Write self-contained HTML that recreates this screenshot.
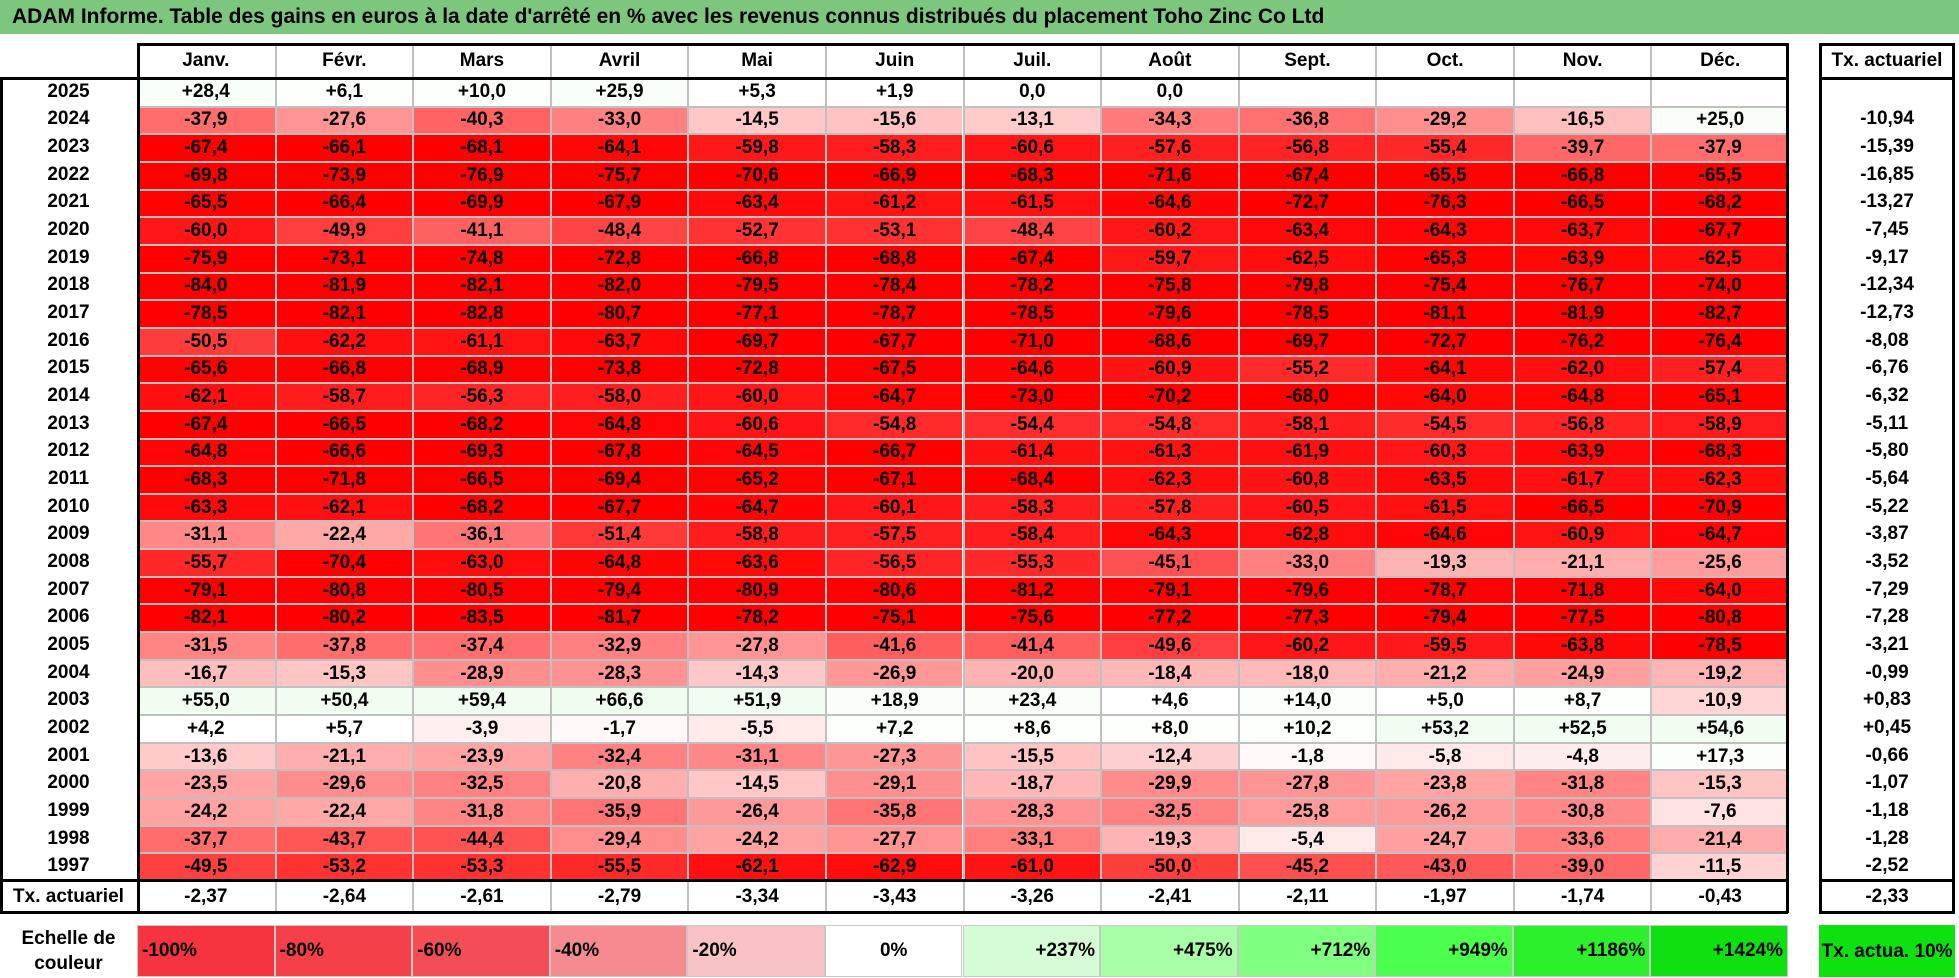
<!DOCTYPE html>
<html><head><meta charset="utf-8">
<style>
html,body{margin:0;padding:0;background:#fff;}
#root{position:relative;width:1959px;height:978px;overflow:hidden;font-family:"Liberation Sans",sans-serif;font-weight:bold;color:#000;}
.c{position:absolute;box-sizing:border-box;display:flex;align-items:center;justify-content:center;font-size:19px;white-space:nowrap;}
.ln{position:absolute;background:#000;}
</style></head>
<body>
<div id="root">
  <div class="c" style="left:0;top:0;width:1959px;height:34px;background:#7dc67d;justify-content:flex-start;padding-left:12px;font-size:21px;">ADAM Informe. Table des gains en euros à la date d'arrêté en % avec les revenus connus distribués du placement Toho Zinc Co Ltd</div>
</div>
<script>
const months = ["Janv.","Févr.","Mars","Avril","Mai","Juin","Juil.","Août","Sept.","Oct.","Nov.","Déc."];
const years = [2025,2024,2023,2022,2021,2020,2019,2018,2017,2016,2015,2014,2013,2012,2011,2010,2009,2008,2007,2006,2005,2004,2003,2002,2001,2000,1999,1998,1997];
const values = [
[28.4,6.1,10.0,25.9,5.3,1.9,0.0,0.0,null,null,null,null],
[-37.9,-27.6,-40.3,-33.0,-14.5,-15.6,-13.1,-34.3,-36.8,-29.2,-16.5,25.0],
[-67.4,-66.1,-68.1,-64.1,-59.8,-58.3,-60.6,-57.6,-56.8,-55.4,-39.7,-37.9],
[-69.8,-73.9,-76.9,-75.7,-70.6,-66.9,-68.3,-71.6,-67.4,-65.5,-66.8,-65.5],
[-65.5,-66.4,-69.9,-67.9,-63.4,-61.2,-61.5,-64.6,-72.7,-76.3,-66.5,-68.2],
[-60.0,-49.9,-41.1,-48.4,-52.7,-53.1,-48.4,-60.2,-63.4,-64.3,-63.7,-67.7],
[-75.9,-73.1,-74.8,-72.8,-66.8,-68.8,-67.4,-59.7,-62.5,-65.3,-63.9,-62.5],
[-84.0,-81.9,-82.1,-82.0,-79.5,-78.4,-78.2,-75.8,-79.8,-75.4,-76.7,-74.0],
[-78.5,-82.1,-82.8,-80.7,-77.1,-78.7,-78.5,-79.6,-78.5,-81.1,-81.9,-82.7],
[-50.5,-62.2,-61.1,-63.7,-69.7,-67.7,-71.0,-68.6,-69.7,-72.7,-76.2,-76.4],
[-65.6,-66.8,-68.9,-73.8,-72.8,-67.5,-64.6,-60.9,-55.2,-64.1,-62.0,-57.4],
[-62.1,-58.7,-56.3,-58.0,-60.0,-64.7,-73.0,-70.2,-68.0,-64.0,-64.8,-65.1],
[-67.4,-66.5,-68.2,-64.8,-60.6,-54.8,-54.4,-54.8,-58.1,-54.5,-56.8,-58.9],
[-64.8,-66.6,-69.3,-67.8,-64.5,-66.7,-61.4,-61.3,-61.9,-60.3,-63.9,-68.3],
[-68.3,-71.8,-66.5,-69.4,-65.2,-67.1,-68.4,-62.3,-60.8,-63.5,-61.7,-62.3],
[-63.3,-62.1,-68.2,-67.7,-64.7,-60.1,-58.3,-57.8,-60.5,-61.5,-66.5,-70.9],
[-31.1,-22.4,-36.1,-51.4,-58.8,-57.5,-58.4,-64.3,-62.8,-64.6,-60.9,-64.7],
[-55.7,-70.4,-63.0,-64.8,-63.6,-56.5,-55.3,-45.1,-33.0,-19.3,-21.1,-25.6],
[-79.1,-80.8,-80.5,-79.4,-80.9,-80.6,-81.2,-79.1,-79.6,-78.7,-71.8,-64.0],
[-82.1,-80.2,-83.5,-81.7,-78.2,-75.1,-75.6,-77.2,-77.3,-79.4,-77.5,-80.8],
[-31.5,-37.8,-37.4,-32.9,-27.8,-41.6,-41.4,-49.6,-60.2,-59.5,-63.8,-78.5],
[-16.7,-15.3,-28.9,-28.3,-14.3,-26.9,-20.0,-18.4,-18.0,-21.2,-24.9,-19.2],
[55.0,50.4,59.4,66.6,51.9,18.9,23.4,4.6,14.0,5.0,8.7,-10.9],
[4.2,5.7,-3.9,-1.7,-5.5,7.2,8.6,8.0,10.2,53.2,52.5,54.6],
[-13.6,-21.1,-23.9,-32.4,-31.1,-27.3,-15.5,-12.4,-1.8,-5.8,-4.8,17.3],
[-23.5,-29.6,-32.5,-20.8,-14.5,-29.1,-18.7,-29.9,-27.8,-23.8,-31.8,-15.3],
[-24.2,-22.4,-31.8,-35.9,-26.4,-35.8,-28.3,-32.5,-25.8,-26.2,-30.8,-7.6],
[-37.7,-43.7,-44.4,-29.4,-24.2,-27.7,-33.1,-19.3,-5.4,-24.7,-33.6,-21.4],
[-49.5,-53.2,-53.3,-55.5,-62.1,-62.9,-61.0,-50.0,-45.2,-43.0,-39.0,-11.5]
];
const yearRates = [null,-10.94,-15.39,-16.85,-13.27,-7.45,-9.17,-12.34,-12.73,-8.08,-6.76,-6.32,-5.11,-5.80,-5.64,-5.22,-3.87,-3.52,-7.29,-7.28,-3.21,-0.99,0.83,0.45,-0.66,-1.07,-1.18,-1.28,-2.52];
const monthRates = [-2.37,-2.64,-2.61,-2.79,-3.34,-3.43,-3.26,-2.41,-2.11,-1.97,-1.74,-0.43];
const totalRate = -2.33;
const scaleLabels = ["-100%","-80%","-60%","-40%","-20%","0%","+237%","+475%","+712%","+949%","+1186%","+1424%"];
const scaleColors = ["#f5343f","#f5404a","#f54d56","#f58a90","#f9c2c5","#ffffff","#d6fcd6","#a8ffa8","#80ff80","#4cff4c","#2cf02c","#0fe00f"];

const root = document.getElementById('root');
const X0 = 137, CW = (1788-137)/12, Y0 = 78, RH = (880-78)/29;
const TX0 = 1819, TXW = 136;
function colX(i){ return X0 + i*CW; }
function rowY(r){ return Y0 + r*RH; }
function fmt(v,d){ let s = Math.abs(v).toFixed(d).replace('.',','); return (v>0?'+':(v<0?'-':''))+s; }
function cellColor(v){
  if(v===null) return '#fff';
  if(v<0){ const t=Math.min(1,-v/66); const g=Math.round(255*(1-t)); return `rgb(255,${g},${g})`; }
  const t=Math.min(1,v/900); const rb=Math.round(255-t*255*0.9); return `rgb(${rb},${Math.round(255-t*30)},${rb})`;
}
function mk(cls, style, text){
  const d=document.createElement('div'); d.className=cls; d.style.cssText=style; if(text!==undefined) d.textContent=text; root.appendChild(d); return d;
}

// header
months.forEach((m,i)=>{
  const d=mk('c',`left:${colX(i)}px;top:43px;width:${CW}px;height:35px;border-left:${i?2:0}px solid #c0c0c0;`,m);
  
  
});
const th=mk('c',`left:${TX0}px;top:43px;width:${TXW}px;height:35px;`,'Tx. actuariel');



// body
years.forEach((y,r)=>{
  const yl=mk('c',`left:0;top:${rowY(r)}px;width:${X0}px;height:${RH}px;`,String(y));
  
  
  values[r].forEach((v,i)=>{
    const d=mk('c',`left:${colX(i)}px;top:${rowY(r)}px;width:${CW}px;height:${RH}px;background:${cellColor(v)};border-left:${i?2:0}px solid #c0c0c0;border-top:${r?2:0}px solid #c0c0c0;`, v===null?'':fmt(v,1));
    
    
  });
  const t=mk('c',`left:${TX0}px;top:${rowY(r)}px;width:${TXW}px;height:${RH}px;`, yearRates[r]===null?'':fmt(yearRates[r],2));
  
  
});
// rate row
const rl=mk('c',`left:0;top:880px;width:${X0}px;height:33px;`,'Tx. actuariel');


monthRates.forEach((v,i)=>{
  const d=mk('c',`left:${colX(i)}px;top:880px;width:${CW}px;height:33px;border-left:${i?2:0}px solid #c0c0c0;`,fmt(v,2));
  
  
});
const tt=mk('c',`left:${TX0}px;top:880px;width:${TXW}px;height:33px;`,fmt(totalRate,2));



// lines
[
 [X0,43,1788-X0,3],[0,77,1788,3],[X0,43,3,870],[1786,43,3,870],[0,77,3,836],[0,879,1788,3],[0,911,1788,3],
 [TX0,43,TXW,3],[TX0,77,TXW,3],[TX0,879,TXW,3],[TX0,911,TXW,3],[TX0,43,3,870],[TX0+TXW-3,43,3,870]
].forEach(a=>{
  const l=mk('ln',`left:${a[0]}px;top:${a[1]}px;width:${a[2]}px;height:${a[3]}px;`);
  
  
});

// scale row
const sl=mk('c',`left:0;top:925px;width:${X0}px;height:52px;text-align:center;line-height:25px;white-space:normal;padding:0 14px;`,'Echelle de couleur');


scaleLabels.forEach((s,i)=>{
  const jc = i<5?'flex-start':(i===5?'center':'flex-end');
  const d=mk('c',`left:${colX(i)}px;top:925px;width:${CW}px;height:52px;background:${scaleColors[i]};justify-content:${jc};padding:0 4px;border:1px solid #c8c8c8;`,s);
  
  
});
const sg=mk('c',`left:${TX0}px;top:925px;width:${TXW}px;height:52px;background:#0fe00f;text-align:center;white-space:normal;line-height:25px;`,'Tx. actua. 10%');


</script>
</body></html>
